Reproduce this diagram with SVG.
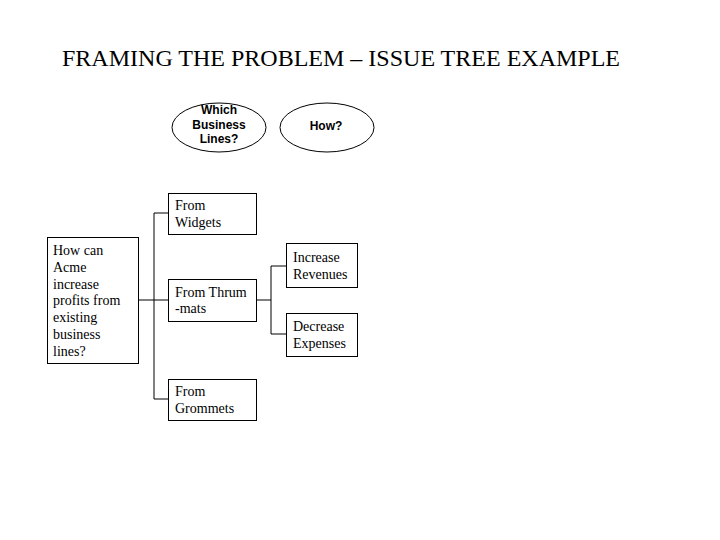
<svg xmlns="http://www.w3.org/2000/svg" width="720" height="540" viewBox="0 0 720 540">
<style>
.box{fill:#fff;stroke:#000;stroke-width:1}
.t{font-family:"Liberation Serif","Times New Roman",serif;font-size:14px;fill:#000}
.e{font-family:"Liberation Sans",Arial,sans-serif;font-size:12px;font-weight:bold;fill:#000;text-anchor:middle}
.c{fill:none;stroke:#000;stroke-width:1}
</style>
<rect width="720" height="540" fill="#fff"/>
<text x="62" y="66" font-family="Liberation Serif,'Times New Roman',serif" font-size="24" textLength="558" lengthAdjust="spacingAndGlyphs" fill="#000">FRAMING THE PROBLEM – ISSUE TREE EXAMPLE</text>
<g id="connectors">
<path class="c" d="M138 300H154M154 213V399M154 213H168M154 300H168M154 399H168"/>
<path class="c" d="M257 300H271M271 266V334M271 266H286M271 334H286"/>
</g>
<g id="q-which">
<ellipse class="box" cx="219" cy="127.5" rx="47" ry="24.5" stroke-width="1.5"/>
<text class="e" x="219" y="114">Which</text>
<text class="e" x="219" y="128.5">Business</text>
<text class="e" x="219" y="143">Lines?</text>
</g>
<g id="q-how">
<ellipse class="box" cx="327" cy="127.5" rx="47" ry="24.5" stroke-width="1.5"/>
<text class="e" x="326" y="130" font-size="13">How?</text>
</g>
<g id="root">
<rect class="box" x="47.5" y="237.5" width="91" height="126"/>
<text class="t" x="53" y="255">How can</text>
<text class="t" x="53" y="272">Acme</text>
<text class="t" x="53" y="289">increase</text>
<text class="t" x="53" y="305">profits from</text>
<text class="t" x="53" y="322">existing</text>
<text class="t" x="53" y="339">business</text>
<text class="t" x="53" y="356">lines?</text>
</g>
<g id="widgets">
<rect class="box" x="168.5" y="193.5" width="88" height="41"/>
<text class="t" x="175" y="210">From</text>
<text class="t" x="175" y="227">Widgets</text>
</g>
<g id="thrummats">
<rect class="box" x="168.5" y="279.5" width="88" height="42"/>
<text class="t" x="175" y="297">From Thrum</text>
<text class="t" x="175" y="313">-mats</text>
</g>
<g id="grommets">
<rect class="box" x="168.5" y="379.5" width="88" height="41"/>
<text class="t" x="175" y="396">From</text>
<text class="t" x="175" y="413">Grommets</text>
</g>
<g id="revenues">
<rect class="box" x="286.5" y="243.5" width="71" height="44"/>
<text class="t" x="293" y="262">Increase</text>
<text class="t" x="293" y="279">Revenues</text>
</g>
<g id="expenses">
<rect class="box" x="286.5" y="313.5" width="71" height="43"/>
<text class="t" x="293" y="331">Decrease</text>
<text class="t" x="293" y="348">Expenses</text>
</g>
</svg>
